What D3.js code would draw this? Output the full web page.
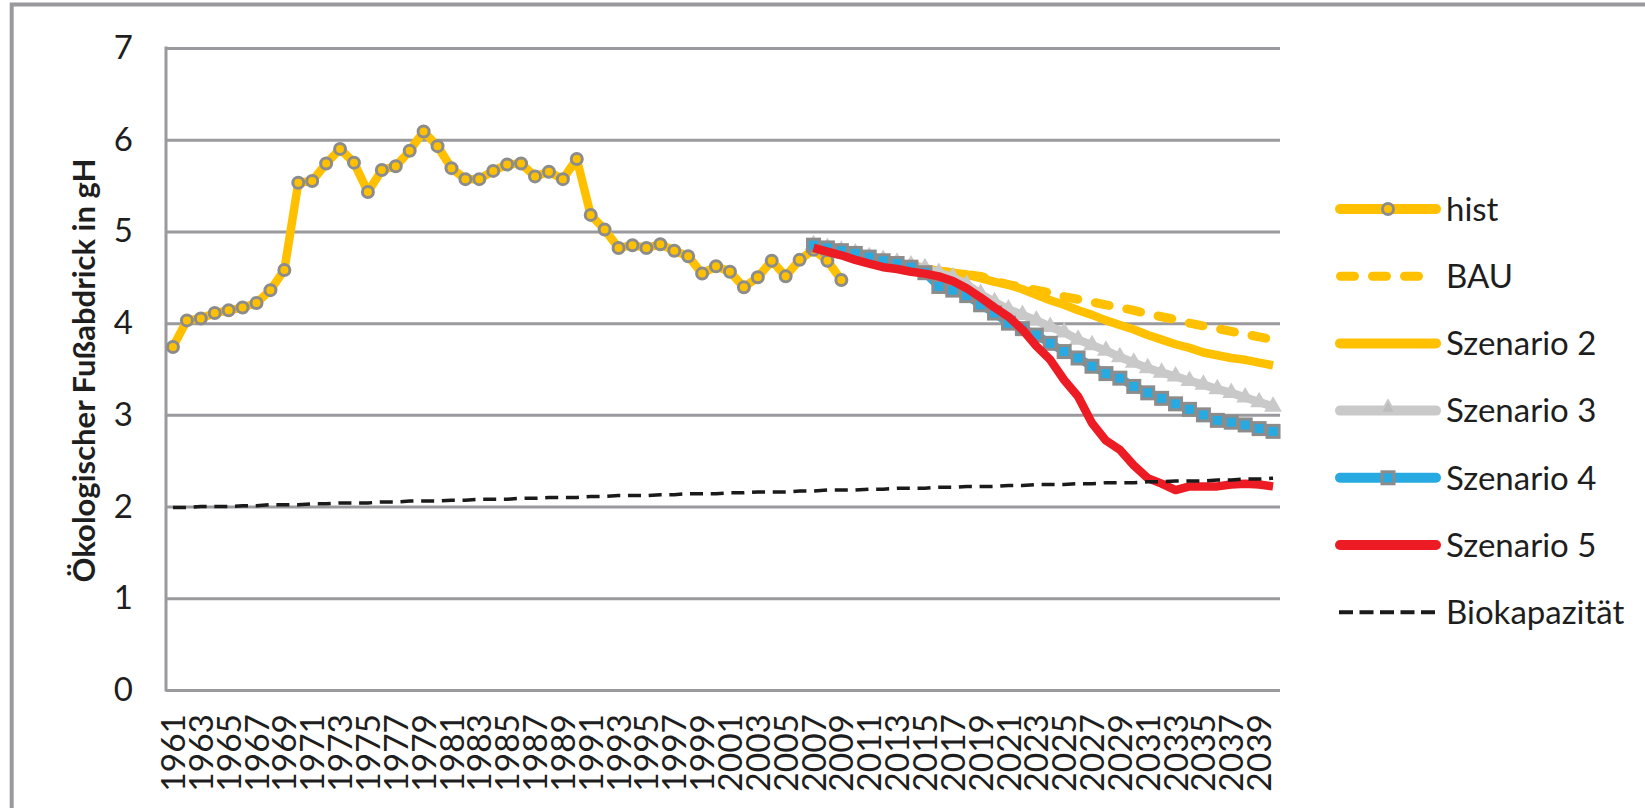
<!DOCTYPE html>
<html>
<head>
<meta charset="utf-8">
<script src="https://cdn.jsdelivr.net/npm/d3@7"></script>
<style>
  html, body { margin: 0; padding: 0; background: #fff; }
  svg { display: block; font-family: Lato, "Open Sans", sans-serif; }
</style>
</head>
<body>
<svg id="chart" width="1645" height="808"></svg>
<script>
// categories
const years = d3.range(1961, 2041);
const histYears = d3.range(1961, 2010);
const scenYears = d3.range(2007, 2041);
const labelYears = years.filter(y => y % 2 === 1);
const yTicks = [0, 1, 2, 3, 4, 5, 6, 7];

// series values
const hist = [
  3.74, 4.03, 4.05, 4.11, 4.14, 4.17, 4.22, 4.36, 4.58, 5.53,
  5.55, 5.74, 5.90, 5.75, 5.43, 5.67, 5.71, 5.88, 6.09, 5.93,
  5.69, 5.57, 5.57, 5.66, 5.73, 5.74, 5.60, 5.65, 5.57, 5.79,
  5.18, 5.02, 4.82, 4.85, 4.82, 4.86, 4.79, 4.73, 4.54, 4.62,
  4.56, 4.39, 4.50, 4.68, 4.51, 4.69, 4.80, 4.68, 4.47
];
const bau = [
  4.85, 4.82, 4.79, 4.76, 4.72, 4.69, 4.66, 4.63, 4.60, 4.57,
  4.55, 4.53, 4.51, 4.46, 4.42, 4.39, 4.36, 4.33, 4.29, 4.26,
  4.23, 4.20, 4.17, 4.14, 4.10, 4.07, 4.04, 4.00, 3.97, 3.94,
  3.91, 3.88, 3.85, 3.82
];
const szen2 = [
  4.85, 4.82, 4.79, 4.76, 4.72, 4.69, 4.66, 4.63, 4.60, 4.57,
  4.55, 4.53, 4.49, 4.45, 4.42, 4.37, 4.31, 4.25, 4.20, 4.14,
  4.09, 4.03, 3.98, 3.93, 3.87, 3.82, 3.77, 3.73, 3.68, 3.65,
  3.62, 3.60, 3.57, 3.54
];
const szen3 = [
  4.85, 4.82, 4.79, 4.76, 4.72, 4.69, 4.66, 4.63, 4.60, 4.55,
  4.50, 4.42, 4.32, 4.23, 4.15, 4.09, 4.03, 3.96, 3.90, 3.82,
  3.76, 3.70, 3.63, 3.57, 3.51, 3.46, 3.42, 3.37, 3.33, 3.28,
  3.24, 3.19, 3.14, 3.09
];
const szen4 = [
  4.85, 4.82, 4.79, 4.76, 4.72, 4.68, 4.65, 4.61, 4.55, 4.40,
  4.36, 4.30, 4.20, 4.11, 4.00, 3.94, 3.87, 3.78, 3.69, 3.62,
  3.53, 3.45, 3.40, 3.31, 3.24, 3.18, 3.12, 3.06, 3.00, 2.94,
  2.92, 2.89, 2.85, 2.82
];
const szen5 = [
  4.82, 4.78, 4.74, 4.69, 4.65, 4.61, 4.59, 4.56, 4.54, 4.51,
  4.46, 4.38, 4.28, 4.17, 4.07, 3.93, 3.75, 3.60, 3.38, 3.20,
  2.91, 2.72, 2.62, 2.45, 2.31, 2.25, 2.18, 2.22, 2.22, 2.22,
  2.24, 2.25, 2.24, 2.22
];
const bio = [
  1.99, 1.99, 2.00, 2.00, 2.00, 2.01, 2.01, 2.02, 2.02, 2.02,
  2.03, 2.03, 2.04, 2.04, 2.04, 2.05, 2.05, 2.06, 2.06, 2.06,
  2.07, 2.07, 2.08, 2.08, 2.08, 2.09, 2.09, 2.10, 2.10, 2.10,
  2.11, 2.11, 2.12, 2.12, 2.12, 2.13, 2.13, 2.14, 2.14, 2.14,
  2.15, 2.15, 2.16, 2.16, 2.16, 2.17, 2.17, 2.18, 2.18, 2.18,
  2.19, 2.19, 2.20, 2.20, 2.20, 2.21, 2.21, 2.22, 2.22, 2.22,
  2.23, 2.23, 2.24, 2.24, 2.24, 2.25, 2.25, 2.26, 2.26, 2.26,
  2.27, 2.27, 2.28, 2.28, 2.28, 2.29, 2.29, 2.30, 2.30, 2.31
];

const legendNames = ['hist', 'BAU', 'Szenario 2', 'Szenario 3', 'Szenario 4', 'Szenario 5', 'Biokapazität'];
const yTitle = 'Ökologischer Fußabdrick in gH';

const yellow = '#FFC000', grey = '#C9C9C9', blue = '#27AAE1', red = '#ED1C24';
const axisGrey = '#9A9A9E', markerGrey = '#8C8C8C', textCol = '#1E1E1E';

const svg = d3.select('#chart');
const plot = { left: 166, right: 1280, top: 48, bottom: 690 };

// outer frame (only top and left visible)
svg.append('path')
  .attr('d', 'M11.7,808 V4.5 H1645')
  .attr('fill', 'none')
  .attr('stroke', axisGrey)
  .attr('stroke-width', 4);

const x = d3.scaleBand().domain(years).range([plot.left, plot.right]);
const cx = yr => x(yr) + x.bandwidth() / 2;
const y = d3.scaleLinear().domain([0, 7]).range([plot.bottom, plot.top]);

// y axis with gridlines
const yAxis = svg.append('g')
  .attr('transform', `translate(${plot.left},0)`)
  .call(d3.axisLeft(y).tickValues(yTicks).tickSize(-(plot.right - plot.left)).tickPadding(33).tickFormat(d3.format('d')));
yAxis.select('.domain').remove();
yAxis.selectAll('.tick line').attr('stroke', axisGrey).attr('stroke-width', 3);
yAxis.selectAll('.tick text')
  .attr('fill', textCol)
  .style('font-size', '33px')
  .style('font-family', 'Lato, sans-serif');

// left axis line
svg.append('line')
  .attr('x1', plot.left).attr('x2', plot.left)
  .attr('y1', plot.top - 1.5).attr('y2', plot.bottom + 1.5)
  .attr('stroke', axisGrey).attr('stroke-width', 3);

// x axis labels
const xAxis = svg.append('g')
  .attr('transform', `translate(0,${plot.bottom})`)
  .call(d3.axisBottom(x).tickValues(labelYears).tickSize(0).tickPadding(0));
xAxis.select('.domain').remove();
xAxis.selectAll('.tick text')
  .attr('fill', textCol)
  .style('font-size', '33.5px')
  .style('font-family', 'Lato, sans-serif')
  .attr('text-anchor', 'end')
  .attr('transform', 'translate(0,24) rotate(-90)')
  .attr('x', 0).attr('y', 0).attr('dy', '0.36em');

// y title
svg.append('text')
  .attr('transform', 'translate(95,370.5) rotate(-90)')
  .attr('text-anchor', 'middle')
  .attr('fill', textCol)
  .style('font-size', '31px')
  .style('font-weight', 700)
  .text(yTitle);

const line = d3.line().x(d => cx(d.year)).y(d => y(d.v));
const zip = (yrs, vals) => yrs.map((yr, i) => ({ year: yr, v: vals[i] }));

const histData = zip(histYears, hist);
const series = [
  { data: zip(scenYears, bau), color: yellow, width: 9, dash: '14,18', cap: 'round' },
  { data: zip(scenYears, szen2), color: yellow, width: 8.5 },
  { data: zip(scenYears, szen3), color: grey, width: 8.5, marker: 'tri' },
  { data: zip(scenYears, szen4), color: blue, width: 8.5, marker: 'sq' },
  { data: zip(scenYears, szen5), color: red, width: 8.5 },
];

// hist line with circle markers
svg.append('path')
  .datum(histData)
  .attr('d', line)
  .attr('fill', 'none')
  .attr('stroke', yellow)
  .attr('stroke-width', 8.5)
  .attr('stroke-linejoin', 'round');
svg.append('g').selectAll('circle')
  .data(histData)
  .join('circle')
  .attr('cx', d => cx(d.year))
  .attr('cy', d => y(d.v))
  .attr('r', 5.5)
  .attr('fill', yellow)
  .attr('stroke', markerGrey)
  .attr('stroke-width', 3);

const tri = d3.symbol(d3.symbolTriangle, 90);

series.forEach(s => {
  svg.append('path')
    .datum(s.data)
    .attr('d', line)
    .attr('fill', 'none')
    .attr('stroke', s.color)
    .attr('stroke-width', s.width)
    .attr('stroke-linejoin', 'round')
    .attr('stroke-linecap', s.cap || 'butt')
    .attr('stroke-dasharray', s.dash || null);
  if (s.marker === 'tri') {
    svg.append('g').selectAll('path')
      .data(s.data)
      .join('path')
      .attr('d', tri)
      .attr('transform', d => `translate(${cx(d.year)},${y(d.v)})`)
      .attr('fill', s.color)
      .attr('stroke', s.color)
      .attr('stroke-width', 2);
  }
  if (s.marker === 'sq') {
    svg.append('g').selectAll('rect')
      .data(s.data)
      .join('rect')
      .attr('x', d => cx(d.year) - 6)
      .attr('y', d => y(d.v) - 6)
      .attr('width', 12).attr('height', 12)
      .attr('fill', s.color)
      .attr('stroke', markerGrey)
      .attr('stroke-width', 3);
  }
});

// Biokapazität
svg.append('path')
  .datum(zip(years, bio))
  .attr('d', line)
  .attr('fill', 'none')
  .attr('stroke', '#1A1A1A')
  .attr('stroke-width', 3.5)
  .attr('stroke-dasharray', '13,7.7');

// legend
const leg = svg.append('g');
const legY0 = 209, legStep = 67.2, lx1 = 1336, lx2 = 1440, lmid = 1388;
legendNames.forEach((name, i) => {
  const ly = legY0 + i * legStep;
  const g = leg.append('g');
  if (i === 0) {
    g.append('line').attr('x1', lx1 + 4).attr('x2', lx2 - 4).attr('y1', ly).attr('y2', ly)
      .attr('stroke', yellow).attr('stroke-width', 10).attr('stroke-linecap', 'round');
    g.append('circle').attr('cx', lmid).attr('cy', ly).attr('r', 5.5)
      .attr('fill', yellow).attr('stroke', markerGrey).attr('stroke-width', 3);
  } else if (i === 1) {
    g.append('line').attr('x1', lx1 + 4.5).attr('x2', lx1 + 82.5).attr('y1', ly).attr('y2', ly)
      .attr('stroke', yellow).attr('stroke-width', 9).attr('stroke-linecap', 'round')
      .attr('stroke-dasharray', '14,18');
  } else if (i === 6) {
    g.append('line').attr('x1', lx1 + 3).attr('x2', lx2 - 2).attr('y1', ly).attr('y2', ly)
      .attr('stroke', '#1A1A1A').attr('stroke-width', 4)
      .attr('stroke-dasharray', '14,6.5');
  } else {
    const col = [null, null, yellow, grey, blue, red][i];
    g.append('line').attr('x1', lx1 + 4).attr('x2', lx2 - 4).attr('y1', ly).attr('y2', ly)
      .attr('stroke', col).attr('stroke-width', 10).attr('stroke-linecap', 'round');
    if (i === 3) {
      g.append('path').attr('d', tri).attr('transform', `translate(${lmid},${ly - 2})`)
        .attr('fill', '#BDBDBD').attr('stroke', grey).attr('stroke-width', 2);
    }
    if (i === 4) {
      g.append('rect').attr('x', lmid - 6).attr('y', ly - 6).attr('width', 12).attr('height', 12)
        .attr('fill', blue).attr('stroke', markerGrey).attr('stroke-width', 3);
    }
  }
  g.append('text')
    .attr('x', 1446)
    .attr('y', ly)
    .attr('dy', '0.36em')
    .attr('fill', textCol)
    .style('font-size', '33px')
    .text(name);
});
</script>
</body>
</html>
